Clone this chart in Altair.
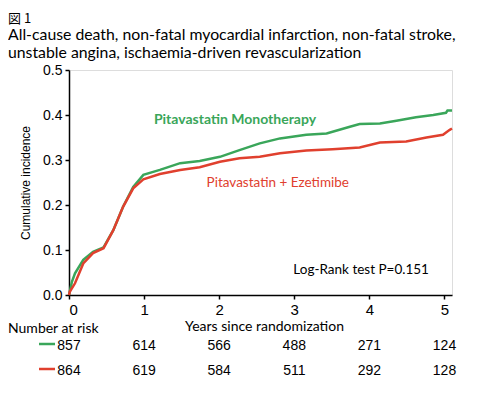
import altair as alt
import pandas as pd

# Kaplan-Meier style cumulative incidence curves
mono_t = [0, 0.04, 0.08, 0.19, 0.32, 0.46, 0.59, 0.72, 0.855, 0.99, 1.21, 1.48, 1.74, 2.01, 2.27,
          2.54, 2.81, 3.16, 3.43, 3.74, 3.87, 4.14, 4.36, 4.62, 4.85, 5.02, 5.04, 5.1]
mono_v = [0, 0.030, 0.048, 0.078, 0.096, 0.106, 0.144, 0.196, 0.240, 0.267, 0.278, 0.293, 0.298, 0.307, 0.322,
          0.337, 0.348, 0.356, 0.359, 0.374, 0.380, 0.381, 0.387, 0.395, 0.400, 0.405, 0.410, 0.410]
eze_t = [0, 0.01, 0.08, 0.19, 0.32, 0.46, 0.59, 0.72, 0.855, 0.99, 1.21, 1.48, 1.74, 2.01, 2.27,
         2.54, 2.81, 3.16, 3.51, 3.87, 4.14, 4.49, 4.76, 4.98, 5.07, 5.1]
eze_v = [0, 0.007, 0.026, 0.070, 0.093, 0.104, 0.144, 0.196, 0.237, 0.257, 0.269, 0.278, 0.284, 0.296, 0.304,
         0.307, 0.315, 0.321, 0.324, 0.328, 0.339, 0.341, 0.350, 0.356, 0.367, 0.370]

risk_years = [0, 1, 2, 3, 4, 5]
risk_mono = [857, 614, 566, 488, 271, 124]
risk_eze = [864, 619, 584, 511, 292, 128]

GREEN = "#3aa65a"
RED = "#e0402e"
SANS = "Liberation Sans"
CAL = "Lato"

W, H = 383, 225

curves = pd.concat([
    pd.DataFrame({"t": mono_t, "v": mono_v, "grp": "Pitavastatin Monotherapy"}),
    pd.DataFrame({"t": eze_t, "v": eze_v, "grp": "Pitavastatin + Ezetimibe"}),
])

xscale = alt.Scale(domain=[0, 5.1], nice=False, zero=False)
yscale = alt.Scale(domain=[0, 0.5], nice=False)

lines = alt.Chart(curves).mark_line(strokeWidth=2.5, interpolate="linear").encode(
    x=alt.X("t:Q", scale=xscale,
            axis=alt.Axis(values=[0, 1, 2, 3, 4, 5], format="d", title="Years since randomization",
                          grid=False, domainColor="black", domainWidth=1.5, tickColor="black",
                          tickWidth=1.5, tickSize=4, labelFontSize=15, labelFont=SANS,
                          labelColor="black", labelPadding=3, titleFont=CAL, titleFontSize=14,
                          titleFontWeight="normal", titleColor="black", titlePadding=2,
                          titleX=195)),
    y=alt.Y("v:Q", scale=yscale,
            axis=alt.Axis(values=[0, 0.1, 0.2, 0.3, 0.4, 0.5], format=".1f", title="Cumulative incidence",
                          grid=False, domainColor="black", domainWidth=1.5, tickColor="black",
                          tickWidth=1.5, tickSize=4, labelFontSize=14, labelFont=SANS,
                          labelColor="black", labelPadding=3, titleFont=SANS, titleFontSize=12,
                          titleFontWeight="normal", titleColor="black", titlePadding=10)),
    color=alt.Color("grp:N", scale=alt.Scale(domain=["Pitavastatin Monotherapy", "Pitavastatin + Ezetimibe"],
                                             range=[GREEN, RED]), legend=None),
    order=alt.Order("t:Q"),
)

ann = pd.DataFrame({
    "t": [2.21, 2.78, 3.89],
    "v": [0.389, 0.249, 0.056],
    "label": ["Pitavastatin Monotherapy", "Pitavastatin + Ezetimibe", "Log-Rank test P=0.151"],
    "col": [GREEN, RED, "black"],
})
ann_bold = alt.Chart(ann.iloc[[0]]).mark_text(font=CAL, fontSize=14, fontWeight="bold", baseline="middle").encode(
    x=alt.X("t:Q", scale=xscale), y=alt.Y("v:Q", scale=yscale), text="label:N",
    color=alt.Color("col:N", scale=None))
ann_norm = alt.Chart(ann.iloc[[1, 2]]).mark_text(font=CAL, fontSize=13.5, baseline="middle").encode(
    x=alt.X("t:Q", scale=xscale), y=alt.Y("v:Q", scale=yscale), text="label:N",
    color=alt.Color("col:N", scale=None))

# Number at risk table
risk = pd.concat([
    pd.DataFrame({"t": risk_years, "n": risk_mono, "row": "mono"}),
    pd.DataFrame({"t": risk_years, "n": risk_eze, "row": "eze"}),
])
risk_mono_txt = alt.Chart(risk[risk.row == "mono"]).mark_text(font=SANS, fontSize=14, baseline="middle").encode(
    x=alt.X("t:Q", scale=xscale), y=alt.value(H + 51), text="n:Q")
risk_eze_txt = alt.Chart(risk[risk.row == "eze"]).mark_text(font=SANS, fontSize=14, baseline="middle").encode(
    x=alt.X("t:Q", scale=xscale), y=alt.value(H + 76), text="n:Q")

dash_g = alt.Chart(pd.DataFrame({"a": [0]})).mark_rule(color=GREEN, strokeWidth=2.5).encode(
    x=alt.value(-30), x2=alt.value(-14), y=alt.value(H + 49))
dash_r = alt.Chart(pd.DataFrame({"a": [0]})).mark_rule(color=RED, strokeWidth=2.5).encode(
    x=alt.value(-30), x2=alt.value(-14), y=alt.value(H + 74))

nar = alt.Chart(pd.DataFrame({"label": ["Number at risk"]})).mark_text(
    font=CAL, fontSize=14, align="left", baseline="middle").encode(
    x=alt.value(-61), y=alt.value(H + 34), text="label:N")

titles = pd.DataFrame({
    "label": ["All-cause death, non-fatal myocardial infarction, non-fatal stroke,",
              "unstable angina, ischaemia-driven revascularization"],
    "yy": [-35, -17],
})
t1 = alt.Chart(pd.DataFrame({"label": ["図 1"]})).mark_text(
    font="Noto Sans CJK JP", fontSize=13, align="left", baseline="middle").encode(
    x=alt.value(-61), y=alt.value(-51.5), text="label:N")
t2 = alt.Chart(titles).mark_text(font=CAL, fontSize=15.8, align="left", baseline="middle").encode(
    x=alt.value(-61), y=alt.Y("yy:Q", scale=None), text="label:N")

chart = alt.layer(lines, ann_bold, ann_norm, risk_mono_txt, risk_eze_txt, dash_g, dash_r, nar, t1, t2).properties(
    width=W, height=H,
    autosize=alt.AutoSizeParams(type="none"),
    padding={"left": 61, "top": 62, "right": 38, "bottom": 91},
).configure_view(stroke=None).configure(background="white")

chart.save("out.html", embed_options={"renderer": "svg", "actions": False})
